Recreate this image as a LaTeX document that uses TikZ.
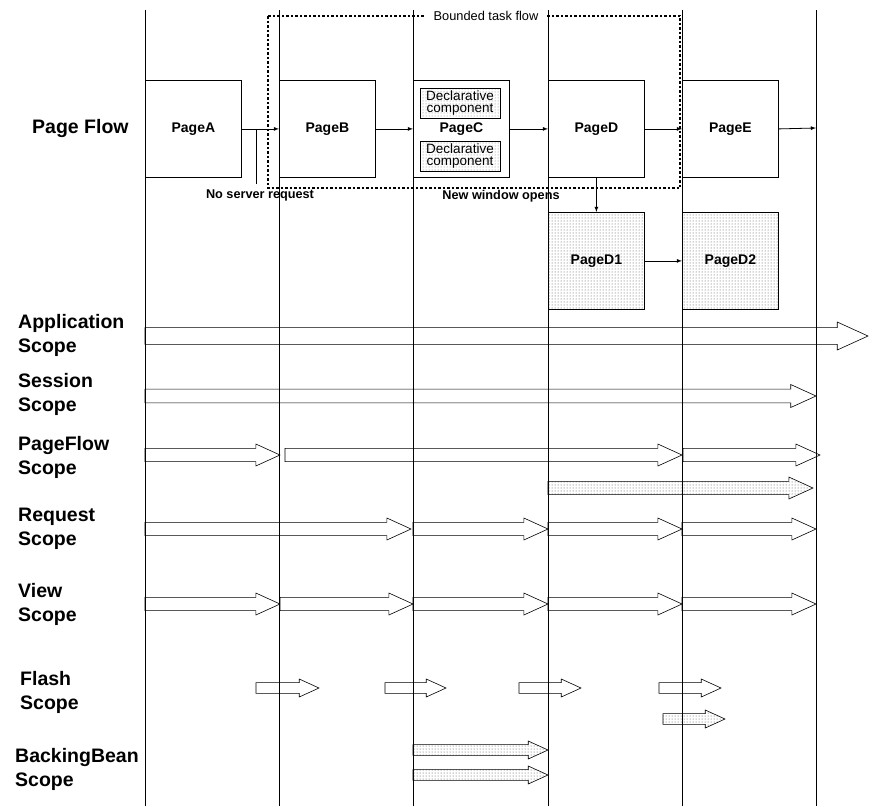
\documentclass[tikz,border=0pt]{standalone}
\usepackage{fontspec}
\setmainfont{Liberation Sans}
\usetikzlibrary{patterns}
\begin{document}
\begin{tikzpicture}[x=1pt,y=-1pt,
  page/.style={draw,fill=white,line width=0.8pt,minimum width=96pt,minimum height=97pt,anchor=north west,inner sep=0pt,font=\fontsize{14}{14}\selectfont\bfseries},
  dpage/.style={page,pattern=dots,pattern color=black!70},
  decl/.style={draw,fill=white,pattern=dots,pattern color=black!50,font=\fontsize{13.5}{12}\selectfont,align=center,inner sep=0.5pt,minimum width=80pt,minimum height=30pt},
  lab/.style={font=\fontsize{19.5}{24}\selectfont\bfseries,align=left,anchor=west,inner sep=0pt},
  small/.style={font=\fontsize{12.7}{12}\selectfont\bfseries},
  conn/.style={-latex,line width=0.8pt},
  vline/.style={line width=0.8pt}]
\useasboundingbox (0,0) rectangle (877,806);
\newcommand{\barr}[5][]{% [style] x1 x2 y size
  \pgfmathsetmacro{\sh}{#5*0.6}\pgfmathsetmacro{\hl}{#5*2.2}
  \filldraw[fill=white,line width=0.6pt,#1] (#2,#4-\sh) -- (#3-\hl,#4-\sh) -- (#3-\hl,#4-#5) -- (#3,#4) -- (#3-\hl,#4+#5) -- (#3-\hl,#4+\sh) -- (#2,#4+\sh) -- cycle;}
\tikzset{dotf/.style={pattern=dots,pattern color=black!70}}
% block arrows
\barr{145}{868}{336}{14}
\barr{145}{816}{396}{11.5}
\barr{145}{280}{455}{11}
\barr{285}{682}{455}{11}
\barr{683}{820}{455}{11}
\barr[dotf]{548}{813}{488}{11}
\foreach \a/\b in {145/411,413/548,548/682,682/816}{\barr{\a}{\b}{529}{11}}
\foreach \a/\b in {145/280,280/413,413/548,548/682,682/816}{\barr{\a}{\b}{604}{11}}
\foreach \a/\b in {256/319,385/446,519/581,659/721}{\barr{\a}{\b}{688}{9}}
\barr[dotf]{663}{725}{719}{9}
\barr[dotf]{413}{548}{750}{9}
\barr[dotf]{413}{548}{775}{9}
% vertical lines
\foreach \x [count=\i] in {145,279,413,548,682,816}{\draw[vline] (\x,10) coordinate (t\i) -- (\x,806) coordinate (b\i);}
% pages
\node[page] (A) at (145,80) {PageA};
\node[page] (B) at (279,80) {PageB};
\node[page] (C) at (413,80) {PageC};
\node[page] (D) at (548,80) {PageD};
\node[page] (E) at (682,80) {PageE};
\node[dpage] (D1) at (548,212) {PageD1};
\node[dpage] (D2) at (682,212) {PageD2};
\node[decl] (c1) at (460,103) {Declarative\\component};
\node[decl] (c2) at (460,156) {Declarative\\component};
% bounded task flow
\draw[line width=2.5pt,dotted] (268,16) rectangle (680,188);
\node[fill=white,font=\fontsize{12.8}{12}\selectfont,inner xsep=8pt,inner ysep=2pt] (btf) at (486,16) {Bounded task flow};
% connectors
\coordinate (e) at (816,128);
\coordinate (ns) at (256,184);
\draw[conn] (A.east) -- (B.west);
\draw[vline] (ns) -- (ns|-A.east);
\draw[conn] (B.east) -- (C.west);
\draw[conn] (C.east) -- (D.west);
\draw[conn] (D.east) -- (E.west);
\draw[conn] (E.east) -- (e);
\draw[conn] (D.south) -- (D1.north);
\draw[conn] (D1.east) -- (D2.west);
\node[small] (nsr) at (260,195) {No server request};
\node[small] (nwo) at (501,196) {New window opens};
% labels
\node[lab] (l0) at (32,128) {Page Flow};
\node[lab] (l1) at (18,335) {Application\\Scope};
\node[lab] (l2) at (18,394) {Session\\Scope};
\node[lab] (l3) at (18,457) {PageFlow\\Scope};
\node[lab] (l4) at (18,529) {Request\\Scope};
\node[lab] (l5) at (18,604) {View\\Scope};
\node[lab] (l6) at (20,692) {Flash\\Scope};
\node[lab] (l7) at (15,769) {BackingBean\\Scope};
\end{tikzpicture}
\end{document}
